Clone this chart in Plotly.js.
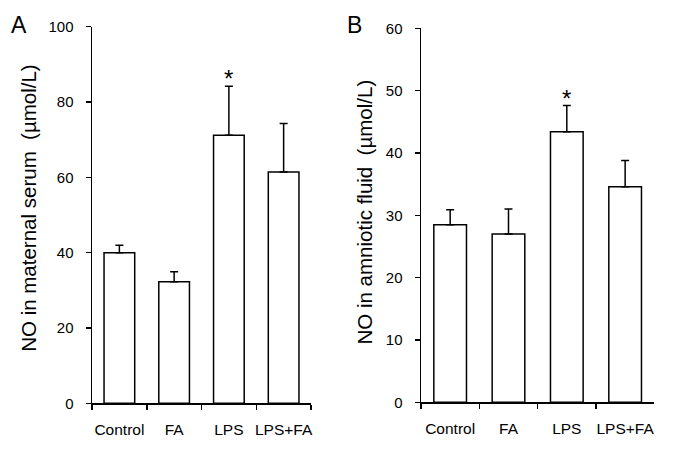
<!DOCTYPE html>
<html>
<head>
<meta charset="utf-8">
<script src="https://cdn.plot.ly/plotly-3.0.1.min.js"></script>
<style>html,body{margin:0;padding:0;background:#fff;}#chart{width:683px;height:456px;}</style>
</head>
<body>
<div id="chart"></div>
<script>
const categories = ['Control', 'FA', 'LPS', 'LPS+FA'];
const serumMean = [40.0, 32.3, 71.2, 61.4];
const serumErr = [2.0, 2.6, 13.0, 12.9];
const fluidMean = [28.5, 27.0, 43.4, 34.6];
const fluidErr = [2.4, 4.0, 4.2, 4.2];
const serumTicks = [0, 20, 40, 60, 80, 100];
const fluidTicks = [0, 10, 20, 30, 40, 50, 60];
const zeros = [0, 0, 0, 0];

const FONT = 'Liberation Sans, Arial, sans-serif';

function barTrace(y, err, xa, ya) {
  return {
    type: 'bar', x: categories, y: y, xaxis: xa, yaxis: ya, width: 0.56,
    marker: {color: '#ffffff', line: {color: '#000', width: 1.5}},
    error_y: {type: 'data', symmetric: false, array: err, arrayminus: zeros,
              color: '#000', thickness: 1.5, width: 4},
    showlegend: false, hoverinfo: 'skip'
  };
}

const data = [
  barTrace(serumMean, serumErr, 'x', 'y'),
  barTrace(fluidMean, fluidErr, 'x2', 'y2')
];

function xax(domain) {
  return {domain: domain, type: 'category', range: [-0.5, 3.5], tickson: 'boundaries',
    showline: true, linecolor: '#000', linewidth: 1.5, ticks: 'outside', ticklen: 5,
    tickwidth: 1.5, tickcolor: '#000', showgrid: false, zeroline: false, tickangle: 0,
    tickfont: {family: FONT, size: 15.5, color: '#000'}, ticklabelstandoff: 12, fixedrange: true};
}
function yax(domain, range, ticks, anchor) {
  return {domain: domain, range: range, tickvals: ticks, anchor: anchor,
    showline: true, linecolor: '#000', linewidth: 1.5, ticks: 'outside', ticklen: 5,
    tickwidth: 1.5, tickcolor: '#000', showgrid: false, zeroline: false,
    tickfont: {family: FONT, size: 15, color: '#000'}, ticklabelstandoff: 9, fixedrange: true};
}

const layout = {
  width: 683, height: 456, autosize: false,
  margin: {l: 0, r: 0, t: 0, b: 0},
  paper_bgcolor: '#fff', plot_bgcolor: 'rgba(0,0,0,0)',
  font: {family: FONT, color: '#000'},
  xaxis: Object.assign(xax([92/683, 311/683]), {anchor: 'y'}),
  yaxis: yax([1 - 403.3/456, 1 - 26.7/456], [0, 100], serumTicks, 'x'),
  xaxis2: Object.assign(xax([421/683, 654.3/683]), {anchor: 'y2'}),
  yaxis2: yax([1 - 402.3/456, 1 - 28.3/456], [0, 60], fluidTicks, 'x2'),
  annotations: [
    {text: '*', x: 'LPS', y: serumMean[2] + serumErr[2], xref: 'x', yref: 'y',
     showarrow: false, yanchor: 'bottom', font: {family: FONT, size: 24}, yshift: -8},
    {text: '*', x: 'LPS', y: fluidMean[2] + fluidErr[2], xref: 'x2', yref: 'y2',
     showarrow: false, yanchor: 'bottom', font: {family: FONT, size: 24}, yshift: -8},
    {text: 'A', x: 9/683, y: 1 - 25/456, xref: 'paper', yref: 'paper', xanchor: 'left',
     yanchor: 'middle', showarrow: false, font: {family: FONT, size: 23}},
    {text: 'B', x: 345/683, y: 1 - 25/456, xref: 'paper', yref: 'paper', xanchor: 'left',
     yanchor: 'middle', showarrow: false, font: {family: FONT, size: 23}},
    {text: 'NO in maternal serum&nbsp;&nbsp;(µmol/L)', x: 29/683, y: 1 - 207.8/456, xref: 'paper', yref: 'paper',
     textangle: -90, showarrow: false, xanchor: 'center', yanchor: 'middle', font: {family: FONT, size: 20.5}},
    {text: 'NO in amniotic fluid&nbsp;&nbsp;(µmol/L)', x: 364/683, y: 1 - 212.5/456, xref: 'paper', yref: 'paper',
     textangle: -90, showarrow: false, xanchor: 'center', yanchor: 'middle', font: {family: FONT, size: 20.5}}
  ]
};

Plotly.newPlot('chart', data, layout, {displayModeBar: false, staticPlot: true});
</script>
</body>
</html>
